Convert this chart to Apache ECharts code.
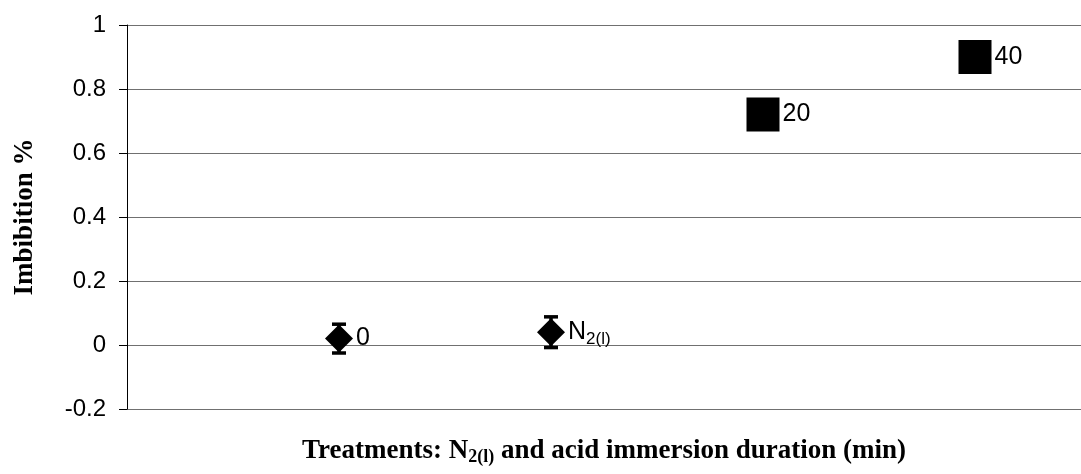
<!DOCTYPE html>
<html lang="en">
<head>
    <meta charset="UTF-8">
    <title>Imbibition</title>
    <script src="https://cdn.jsdelivr.net/npm/echarts@6/dist/echarts.min.js"></script>
    <style>
        html, body { margin: 0; padding: 0; background: #fff; }
        #chart { width: 1081px; height: 474px; }
    </style>
</head>
<body>
<div id="chart"></div>
<script type="text/javascript">
    // treatment labels and positions along the (hidden) x axis
    var treatments = ['0', 'N2(l)', '20', '40'];
    var xPos = [1, 2, 3, 4];
    // mean imbibition and error (+/-)
    var imbibition = [0.02, 0.04, 0.72, 0.9];
    var errors = [0.045, 0.048, 0.03, 0.03];
    // which marker each point uses
    var shapes = ['diamond', 'diamond', 'rect', 'rect'];
    var yTicks = [-0.2, 0, 0.2, 0.4, 0.6, 0.8, 1];

    var myChart = echarts.init(document.getElementById('chart'));

    var pointData = [];
    var errData = [];
    for (var i = 0; i < xPos.length; i++) {
        pointData.push({
            value: [xPos[i], imbibition[i]],
            name: treatments[i],
            symbol: shapes[i],
            symbolSize: shapes[i] == 'diamond' ? [28, 28] : [33, 34]
        });
        errData.push([xPos[i], imbibition[i] - errors[i], imbibition[i] + errors[i]]);
    }

    function labelText(name) {
        if (name == 'N2(l)') return 'N{sub|2(l)}';
        return name;
    }

    var option = {
        animation: false,
        grid: { left: 127, right: 0, top: 25, bottom: 65 },
        xAxis: {
            type: 'value',
            min: 0,
            max: 4.5,
            axisLine: { show: false },
            axisTick: { show: false },
            axisLabel: { show: false },
            splitLine: { show: false },
            name: 'Treatments: N{sub|2(l)} and acid immersion duration (min)',
            nameLocation: 'middle',
            nameGap: 27,
            nameTextStyle: {
                fontFamily: 'Liberation Serif',
                fontWeight: 'bold',
                fontSize: 27,
                color: '#000',
                rich: {
                    sub: {
                        fontFamily: 'Liberation Serif',
                        fontWeight: 'bold',
                        fontSize: 18,
                        color: '#000',
                        padding: [12, 0, 0, 0]
                    }
                }
            }
        },
        yAxis: {
            type: 'value',
            min: yTicks[0],
            max: yTicks[yTicks.length - 1],
            interval: 0.2,
            axisLine: { show: true, lineStyle: { color: '#000', width: 1 } },
            axisTick: { show: true, length: 8, lineStyle: { color: '#000' } },
            axisLabel: {
                margin: 21,
                fontFamily: 'Liberation Sans',
                fontSize: 24,
                color: '#000',
                formatter: function (v) {
                    return String(Math.round(v * 10) / 10);
                }
            },
            splitLine: { show: true, lineStyle: { color: '#707070', width: 1 } },
            name: 'Imbibition %',
            nameLocation: 'middle',
            nameGap: 88,
            nameTextStyle: {
                fontFamily: 'Liberation Serif',
                fontWeight: 'bold',
                fontSize: 27,
                color: '#000'
            }
        },
        series: [
            {
                type: 'custom',
                data: errData,
                z: 3,
                renderItem: function (params, api) {
                    var x = api.value(0);
                    var lo = api.coord([x, api.value(1)]);
                    var hi = api.coord([x, api.value(2)]);
                    var cap = 7;
                    var st = { stroke: '#000', lineWidth: 3.5 };
                    return {
                        type: 'group',
                        children: [
                            { type: 'line', shape: { x1: lo[0], y1: lo[1], x2: hi[0], y2: hi[1] }, style: st },
                            { type: 'line', shape: { x1: lo[0] - cap, y1: lo[1], x2: lo[0] + cap, y2: lo[1] }, style: st },
                            { type: 'line', shape: { x1: hi[0] - cap, y1: hi[1], x2: hi[0] + cap, y2: hi[1] }, style: st }
                        ]
                    };
                }
            },
            {
                type: 'scatter',
                data: pointData,
                z: 4,
                itemStyle: { color: '#000', opacity: 1 },
                label: {
                    show: true,
                    position: 'right',
                    distance: 3,
                    fontFamily: 'Liberation Sans',
                    fontSize: 25,
                    color: '#000',
                    formatter: function (p) {
                        return labelText(p.name);
                    },
                    rich: {
                        sub: {
                            fontFamily: 'Liberation Sans',
                            fontSize: 17,
                            color: '#000',
                            padding: [14, 0, 0, 0]
                        }
                    }
                }
            }
        ]
    };

    myChart.setOption(option);
</script>
</body>
</html>
